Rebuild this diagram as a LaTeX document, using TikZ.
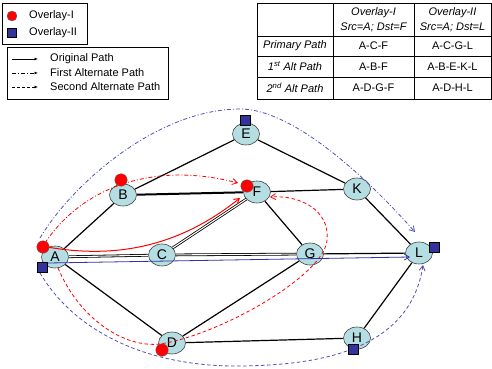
\documentclass[tikz,border=0pt]{standalone}
\usepackage{fontspec}
\setmainfont{Liberation Sans}
\usetikzlibrary{arrows.meta,shapes.geometric}
\definecolor{nodefill}{RGB}{180,222,226}
\definecolor{ovred}{RGB}{255,0,0}
\definecolor{ovblue}{RGB}{51,51,153}
\definecolor{pathblue}{RGB}{80,80,185}
\definecolor{solidblue}{RGB}{50,50,165}
\tikzset{
  netnode/.style={ellipse, draw=black!75, fill=nodefill, minimum width=27pt, minimum height=22pt, inner sep=0pt, line width=0.6pt, font=\fontsize{14}{14}\selectfont},
  link/.style={line width=1.2pt, black},
  dlink/.style={double, double distance=1.1pt, line width=0.8pt, black},
  thlink/.style={line width=2pt, black},
  redmark/.style={circle, fill=ovred, draw=black!60, line width=0.4pt, minimum size=12.5pt, inner sep=0pt},
  bluemark/.style={rectangle, fill=ovblue, draw=black, line width=0.5pt, minimum size=10.5pt, inner sep=0pt},
  origpath/.style={line width=1pt},
  firstalt/.style={line width=0.8pt, dash pattern=on 4pt off 2pt on 1pt off 2pt},
  secondalt/.style={line width=0.8pt, dash pattern=on 3.5pt off 2.5pt},
  curvetip/.style={-{Straight Barb[length=5pt,width=6pt]}},
  legtip/.style={-{Latex[length=3.5pt,width=3pt]}},
  legtext/.style={font=\fontsize{11}{13}\selectfont, inner sep=0pt, anchor=west},
  tabtext/.style={font=\fontsize{11}{13}\selectfont, inner sep=0pt},
  tabital/.style={font=\fontsize{11}{13}\selectfont\itshape, inner sep=0pt}
}
\begin{document}
\begin{tikzpicture}[x=1pt,y=-1pt]
\useasboundingbox (0,0) rectangle (492,369);

% ---------- legend 1 ----------
\draw[line width=0.6pt] (2,3) rectangle (87,44);
\node[redmark, minimum size=10pt] (lr) at (12,16) {};
\node[legtext] (lrt) at (29,16) {Overlay-I};
\node[bluemark, minimum size=9pt] (lb) at (12,33) {};
\node[legtext] (lbt) at (29,33) {Overlay-II};

% ---------- legend 2 ----------
\draw[line width=0.6pt] (7,47) rectangle (168,99);
\coordinate (l1a) at (12,59); \coordinate (l1b) at (38,59);
\coordinate (l2a) at (12,73); \coordinate (l2b) at (38,73);
\coordinate (l3a) at (12,87); \coordinate (l3b) at (38,87);
\draw[line width=0.7pt, legtip] (l1a) -- (l1b);
\draw[line width=0.7pt, dash pattern=on 4pt off 2pt on 1pt off 2pt, legtip] (l2a) -- (l2b);
\draw[line width=0.7pt, dash pattern=on 3pt off 2pt, legtip] (l3a) -- (l3b);
\node[legtext] (l1t) at (50,59) {Original Path};
\node[legtext] (l2t) at (50,73) {First Alternate Path};
\node[legtext] (l3t) at (50,87) {Second Alternate Path};

% ---------- table ----------
\draw[line width=0.6pt] (257,3) rectangle (491,99);
\draw[line width=0.6pt] (257,36) -- (491,36) (257,56) -- (491,56) (257,77) -- (491,77);
\draw[line width=0.6pt] (333,3) -- (333,99) (414,3) -- (414,99);
\node[tabital] (h1a) at (373.5,13) {Overlay-I};
\node[tabital] (h1b) at (373.5,27) {Src=A; Dst=F};
\node[tabital] (h2a) at (452.5,13) {Overlay-II};
\node[tabital] (h2b) at (452.5,27) {Src=A; Dst=L};
\node[tabital] (r1) at (295,46) {Primary Path};
\node[tabital] (r2) at (295,66.5) {1\textsuperscript{st} Alt Path};
\node[tabital] (r3) at (295,88) {2\textsuperscript{nd} Alt Path};
\node[tabtext] (c11) at (373.5,46) {A-C-F};
\node[tabtext] (c12) at (452.5,46) {A-C-G-L};
\node[tabtext] (c21) at (373.5,66.5) {A-B-F};
\node[tabtext] (c22) at (452.5,66.5) {A-B-E-K-L};
\node[tabtext] (c31) at (373.5,88) {A-D-G-F};
\node[tabtext] (c32) at (452.5,88) {A-D-H-L};

% ---------- network nodes ----------
\node[netnode] (A) at (55,257) {A};
\node[netnode] (B) at (123,195) {B};
\node[netnode] (C) at (162,255) {C};
\node[netnode] (D) at (172,343) {D};
\node[netnode] (E) at (246,134) {E};
\node[netnode] (F) at (257,192) {F};
\node[netnode] (G) at (310,254) {G};
\node[netnode] (K) at (357,189) {K};
\node[netnode] (H) at (357,338) {H};
\node[netnode] (L) at (419,253) {L};

% ---------- links ----------
\draw[link] (A) -- (B);
\draw[dlink] (A) -- (C);
\draw[link] (A) -- (D);
\draw[link] (B) -- (E);
\draw[thlink] (B) -- (F);
\draw[dlink] (C) -- (F);
\draw[dlink] (C) -- (G);
\draw[link] (D) -- (G);
\draw[link] (D) -- (H);
\draw[link] (E) -- (K);
\draw[link] (F) -- (K);
\draw[link] (F) -- (G);
\draw[link] (G) -- (L);
\draw[link] (K) -- (L);
\draw[link] (H) -- (L);

% ---------- paths ----------
\coordinate (r1s) at (47,247); \coordinate (r1e) at (240,198);
\coordinate (r2s) at (45,243); \coordinate (r2e) at (238,183);
\coordinate (r3s) at (58,268); \coordinate (r3m) at (160,344); \coordinate (r3n) at (327,240); \coordinate (r3e) at (270,197);
\coordinate (b1s) at (48,263); \coordinate (b1e) at (410,257);
\coordinate (b2s) at (40,238); \coordinate (b2m) at (240,109); \coordinate (b2e) at (415,232);
\coordinate (b3s) at (40,273); \coordinate (b3m) at (235,366); \coordinate (b3e) at (423,265);

\draw[origpath, ovred, curvetip] (r1s) .. controls (110,258) and (175,250) .. (r1e);
\draw[firstalt, ovred, curvetip] (r2s) .. controls (80,190) and (150,160) .. (r2e);
\draw[secondalt, ovred, curvetip] (r3s) .. controls (80,320) and (125,348) .. (r3m)
   .. controls (220,335) and (325,275) .. (r3n) .. controls (330,210) and (300,195) .. (r3e);
\draw[line width=0.8pt, solidblue, curvetip] (b1s) -- (b1e);
\draw[firstalt, pathblue, curvetip] (b2s) .. controls (75,180) and (160,109) .. (b2m)
   .. controls (290,109) and (360,170) .. (b2e);
\draw[secondalt, pathblue, curvetip] (b3s) .. controls (80,340) and (160,366) .. (b3m)
   .. controls (320,366) and (410,350) .. (b3e);

% ---------- overlay markers ----------
\node[redmark] (mA) at (43,247) {};
\node[redmark] (mB) at (121,180) {};
\node[redmark] (mF) at (247,186) {};
\node[redmark] (mD) at (162,350) {};
\node[bluemark] (qA) at (42,267) {};
\node[bluemark] (qE) at (245,120) {};
\node[bluemark] (qL) at (434,247) {};
\node[bluemark] (qH) at (353,349) {};
\end{tikzpicture}
\end{document}
